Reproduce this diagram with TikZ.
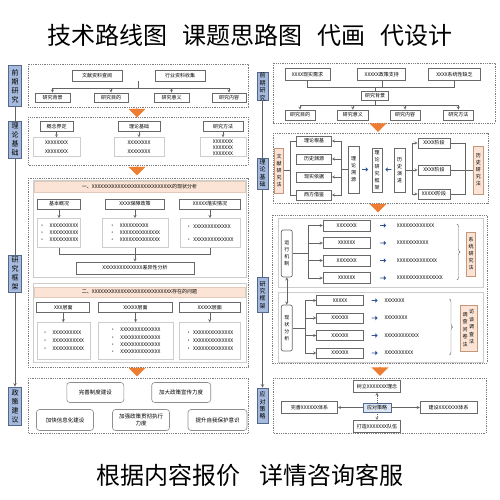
\documentclass[tikz,border=0pt]{standalone}
\usepackage{fontspec}
\setmainfont{Noto Sans CJK SC}
\usetikzlibrary{shapes.geometric, shapes.arrows, arrows, calc, decorations.pathreplacing}

\definecolor{labfill}{RGB}{166,186,222}
\definecolor{labdraw}{RGB}{84,104,140}
\definecolor{boxdraw}{RGB}{105,105,105}
\definecolor{softdraw}{RGB}{205,205,205}
\definecolor{peach}{RGB}{251,228,213}
\definecolor{peachdraw}{RGB}{196,150,122}
\definecolor{framegray}{RGB}{125,125,125}
\definecolor{arrorange}{RGB}{237,125,49}
\definecolor{arrblue}{RGB}{46,84,150}
\definecolor{linegray}{RGB}{100,100,100}
\definecolor{hubfill}{RGB}{222,230,242}

\begin{document}
\begin{tikzpicture}[x=1pt, y=-1pt,
        % styles
        sz/.style 2 args = {minimum width=#1pt, minimum height=#2pt},
        stage/.style = {
                rectangle, draw=labdraw, fill=labfill, line width=0.6pt,
                inner sep=0pt, align=center, font=\fontsize{7}{9}\selectfont
            },
        stagesmall/.style = {
                stage, font=\fontsize{6}{7.4}\selectfont
            },
        box/.style = {
                rectangle, draw=boxdraw, line width=0.7pt, fill=white,
                inner sep=0pt, align=center, font=\fontsize{5}{6}\selectfont
            },
        vbox/.style = {
                box, font=\fontsize{5}{7}\selectfont
            },
        roundbox/.style = {
                vbox, rounded corners=2pt
            },
        soft/.style = {
                rectangle, draw=softdraw, line width=0.5pt, fill=white,
                inner sep=0pt, align=left, font=\fontsize{5}{7}\selectfont
            },
        band/.style = {
                rectangle, draw=peachdraw!50, fill=peach, line width=0.5pt,
                inner sep=0pt, font=\fontsize{5}{6}\selectfont
            },
        tag/.style = {
                rectangle, draw=peachdraw, fill=peach, line width=0.6pt,
                inner sep=0pt, align=center, font=\fontsize{5}{7}\selectfont
            },
        advice/.style = {
                rectangle, rounded corners=3pt, draw=boxdraw!75, line width=0.6pt,
                inner sep=0pt, align=center, font=\fontsize{5.5}{7.5}\selectfont
            },
        hub/.style = {
                box, fill=hubfill, draw=labdraw
            },
        frame/.style = {
                draw=framegray, line width=0.5pt, dash pattern=on 1pt off 0.8pt
            },
        panel/.style = {
                draw=softdraw, line width=0.5pt
            },
        line/.style = {
                draw=linegray, line width=0.4pt
            },
        arrow/.style = {
                line, ->, >=stealth
            },
        downarrow/.style = {
                single arrow, shape border rotate=270, fill=arrorange, draw=none,
                inner sep=0pt, minimum height=9pt, minimum width=17pt,
                single arrow head extend=2.5pt
            },
        bluearrow/.style = {
                single arrow, fill=arrblue, draw=none, inner sep=0pt,
                minimum height=6pt, minimum width=4.5pt, single arrow head extend=1.2pt
            },
        note/.style = {
                anchor=west, inner sep=0pt, font=\fontsize{5}{6}\selectfont
            },
        brace/.style = {
                line, decorate, decoration={brace, amplitude=3pt}
            }]

    \useasboundingbox[fill=white] (0,0) rectangle (500,500);

    \node (title) at (250,35) {\fontsize{24}{24}\selectfont 技术路线图\hspace{15pt}课题思路图\hspace{15pt}代画\hspace{15pt}代设计};
    \node (contact) at (250,475) {\fontsize{24}{24}\selectfont 根据内容报价\hspace{20pt}详情咨询客服};

    % left: stage labels
    \node (l_pre) [stage, sz={13}{41}] at (15,86) {前\\期\\研\\究};
    \node (l_theory) [stage, sz={13}{37}] at (15,139.7) {理\\论\\基\\础};
    \node (l_frame) [stage, sz={13}{37}] at (15,274) {研\\究\\框\\架};
    \node (l_advice) [stage, sz={13}{38}] at (15,406) {政\\策\\建\\议};
    \draw [line, line width=0.6pt] (l_pre) -- (l_theory);
    \draw [line, line width=0.6pt] (l_theory) -- (l_frame);
    \draw [arrow, line width=0.6pt] (l_frame) -- (l_advice);

    % left: preliminary study
    \draw [frame] (28,64) rectangle (248,107);
    \node (lit_review) [box, sz={50}{11}] at (97,75.5) {文献资料查阅};
    \node (industry_data) [box, sz={50}{11}] at (180,75.5) {行业资料收集};
    \node (background) [box, sz={35}{9}] at (52.5,97.5) {研究背景};
    \node (aim) [box, sz={34}{9}] at (111,97.5) {研究目的};
    \node (meaning) [box, sz={35}{9}] at (171.5,97.5) {研究意义};
    \node (content) [box, sz={34}{9}] at (229,97.5) {研究内容};
    \coordinate (pre_top) at ($(lit_review.south)!0.5!(industry_data.south)$);
    \draw [line] (pre_top) -- ++(0,6.5) coordinate (pre_bar);
    \foreach \n in {background, aim, meaning, content}
        \draw [arrow] (pre_bar) -| (\n);

    \node (down_a) [downarrow] at (137,112.5) {};

    % left: theory basis
    \draw [frame] (28,117) rectangle (248,165);
    \node (concept) [box, sz={33}{10}] at (56.5,126.7) {概念界定};
    \node (theory) [box, sz={42}{10}] at (139,126.7) {理论基础};
    \node (method) [box, sz={40}{10}] at (223,126.7) {研究方法};
    \node (concept_list) [soft, sz={47}{19}, font=\fontsize{5}{8.4}\selectfont] at (56.5,147.2) {XXXXXXXX\\XXXXXXXX};
    \node (theory_list) [soft, sz={50}{19}, font=\fontsize{5}{8.4}\selectfont] at (139,147.2) {XXXXXXXX\\XXXXXXXX};
    \node (method_list) [soft, sz={46}{19}, font=\fontsize{5}{6}\selectfont] at (223,147.2) {XXXXXXX\\XXXXXXX\\XXXXXXX};
    \draw [arrow] (concept) -- (concept_list);
    \draw [arrow] (theory) -- (theory_list);
    \draw [arrow] (method) -- (method_list);

    \node (down_b) [downarrow] at (137,170.5) {};

    % left: research framework
    \draw [frame] (28,178) rectangle (248,367);
    \draw [panel] (33,180) rectangle (246,277);
    \node (status_head) [band, sz={211}{10.5}] at (139.5,186.5) {一、XXXXXXXXXXXXXXXXXXXXXXXXXXXX的现状分析};
    \node (overview) [box, sz={43}{10}] at (59,204) {基本概况};
    \node (guarantee) [box, sz={59}{10}] at (135,204) {XXXX保障政策};
    \node (practice) [box, sz={61}{10}] at (210,204) {XXXXX落实情况};
    \node (overview_list) [soft, sz={43}{29}] at (59,232.8) {•\hspace{5pt}XXXXXXXXXX\\•\hspace{5pt}XXXXXXXXXX\\•\hspace{5pt}XXXXXXXXXX};
    \node (guarantee_list) [soft, sz={66}{29}] at (135,232.8) {•\hspace{5pt}XXXXXXXXXX\\•\hspace{5pt}XXXXXXXXXXXXXX\\•\hspace{5pt}XXXXXXXXXXXXXX};
    \node (practice_list) [soft, sz={60}{29}, font=\fontsize{5}{13}\selectfont] at (210,232.8) {•\hspace{2pt}XXXXXXXXXXXXX\\•\hspace{2pt}XXXXXXXXXXXXXX};
    \draw [arrow] (overview) -- (overview_list);
    \draw [arrow] (guarantee) -- (guarantee_list);
    \draw [arrow] (practice) -- (practice_list);
    \node (gap) [box, sz={118}{12}] at (135,268) {XXXXXXXXXXXXXX差异性分析};
    \draw [line] (overview_list.south) -- ++(0,7) -| (practice_list.south);
    \draw [arrow] (guarantee_list) -- (gap);

    \draw [panel] (33,283) rectangle (246,362);
    \node (problem_head) [band, sz={211}{10.5}] at (139.5,292) {二、XXXXXXXXXXXXXXXXXXXXXXXXXXXX存在的问题};
    \node (level_a) [box, sz={53}{10.5}] at (63.3,307.5) {XXX层面};
    \node (level_b) [box, sz={74}{10.5}] at (135.5,307.5) {XXXXX层面};
    \node (level_c) [box, sz={61}{10.5}] at (209.7,307.5) {XXXXX层面};
    \node (level_a_list) [soft, sz={53}{37}, font=\fontsize{5}{8}\selectfont] at (63.3,341) {•\hspace{5pt}XXXXXXXXXX\\•\hspace{5pt}XXXXXXXXXXX\\•\hspace{5pt}XXXXXXXXXXX};
    \node (level_b_list) [soft, sz={75}{37}, font=\fontsize{5}{7.4}\selectfont] at (135.5,341) {•\hspace{5pt}XXXXXXXXXXXXXX\\•\hspace{5pt}XXXXXXXXXXXXXX\\•\hspace{5pt}XXXXXXXXXXXXXX\\•\hspace{5pt}XXXXXXXXXXXXXX};
    \node (level_c_list) [soft, sz={61}{37}, font=\fontsize{5}{8}\selectfont] at (209.7,341) {•\hspace{2pt}XXXXXXXXXXXXXX\\•\hspace{2pt}XXXXXXXXXXXXXX\\•\hspace{2pt}XXXXXXXXXXXXXX};
    \draw [arrow] (level_a) -- (level_a_list);
    \draw [arrow] (level_b) -- (level_b_list);
    \draw [arrow] (level_c) -- (level_c_list);

    \node (down_c) [downarrow] at (137,371.5) {};

    % left: policy advice
    \draw [frame] (28,378) rectangle (248,433);
    \node (system) [advice, sz={57}{20}] at (95.3,392.5) {完善制度建设};
    \node (publicity) [advice, sz={59}{20}] at (181.2,392.5) {加大政策宣传力度};
    \node (informat) [advice, sz={57}{21}] at (65,420) {加快信息化建设};
    \node (enforce) [advice, sz={57}{21}] at (141,420) {加强政策贯彻执行\\力度};
    \node (awareness) [advice, sz={59}{21}] at (217.5,420) {提升自我保护意识};

    % right: stage labels
    \node (r_pre) [stagesmall, sz={11}{28}] at (262.5,86.7) {前\\期\\研\\究};
    \node (r_theory) [stagesmall, sz={11}{31}] at (262.5,173.5) {理\\论\\基\\础};
    \node (r_frame) [stagesmall, sz={11}{35}] at (262.5,295) {研\\究\\框\\架};
    \node (r_plan) [stagesmall, sz={11}{35}] at (262.5,405.5) {应\\对\\策\\略};
    \draw [line, line width=0.6pt] (r_pre) -- (r_theory);
    \draw [line, line width=0.6pt] (r_theory) -- (r_frame);
    \draw [arrow, line width=0.6pt] (r_frame) -- (r_plan);

    % right: preliminary study
    \draw [frame] (273,63) rectangle (495,123);
    \node (need) [box, sz={45}{12.5}] at (307.5,74.5) {XXXX现实需求};
    \node (support) [box, sz={48}{12.5}] at (381.8,74.5) {XXXXX政策支持};
    \node (lack) [box, sz={52}{12.5}] at (454.5,74.5) {XXXX系统性缺乏};
    \node (r_background) [box, sz={27}{9}] at (375,95.5) {研究背景};
    \coordinate (bg_join) at (375,87.7);
    \draw [line] (need.south) |- (bg_join) -| (lack.south);
    \draw [line] (support.south) -- (support.south |- bg_join);
    \draw [line] (bg_join) -- (r_background);
    \node (r_aim) [box, sz={30}{10}] at (300,115) {研究目的};
    \node (r_meaning) [box, sz={31}{10}] at (352.8,115) {研究意义};
    \node (r_content) [box, sz={30}{10}] at (405,115) {研究内容};
    \node (r_method) [box, sz={30}{10}] at (458.3,115) {研究方法};
    \draw [line] (r_background) -- ++(0,9.5) coordinate (bg_bar);
    \foreach \n in {r_aim, r_meaning, r_content, r_method}
        \draw [arrow] (bg_bar) -| (\n);

    \node (down_d) [downarrow] at (378,127) {};

    % right: theory basis
    \draw [frame] (273,133) rectangle (488,203);
    \node (lit_method) [tag, sz={9}{45}] at (279,170.5) {文\\献\\研\\究\\法};
    \node (root) [box, sz={35}{10}] at (314,141) {理论根基};
    \node (origin) [box, sz={35}{10}] at (314,159) {历史渊源};
    \node (basis) [box, sz={35}{10}] at (314,177) {现实依据};
    \node (western) [box, sz={35}{10}] at (314,195) {西方借鉴};
    \draw [line] (root.west) -- ++(-5.5,0) |- (western.west);
    \draw [line] (lit_method.east) -- ++(7.5,0);
    \node (trace) [vbox, sz={11}{47}] at (353.5,169.5) {理\\论\\溯\\源};
    \draw [line] (trace.west) -- ++(-6,0) coordinate (trace_fork);
    \foreach \n in {root, origin, basis, western}
        \draw [arrow] (trace_fork) |- (\n.east);
    \node (to_core) [bluearrow] at (365,169.5) {};
    \node (core) [vbox, sz={10}{44}, font=\fontsize{5}{7}\selectfont] at (377,170) {理\\论\\研\\究\\框\\架};
    \node (from_evo) [bluearrow, shape border rotate=180] at (388.5,169.5) {};
    \node (evolution) [vbox, sz={11}{44}] at (399.7,170) {历\\史\\演\\进};
    \draw [line] (evolution.east) -- ++(6.5,0) coordinate (evo_fork);
    \node (phase_a) [box, sz={32}{10}] at (434,143) {XXXX阶段};
    \node (phase_b) [box, sz={32}{10}] at (434,170) {XXXX阶段};
    \node (phase_c) [box, sz={32}{10}] at (434,194) {XXXXX阶段};
    \node (hist_method) [tag, sz={10}{48}] at (478.3,170) {历\\史\\研\\究\\法};
    \draw [line] (hist_method.west) -- ++(-8,0) coordinate (hist_fork);
    \foreach \n in {phase_a, phase_b, phase_c} {
        \draw [arrow] (evo_fork) |- (\n.west);
        \draw [line] (hist_fork) |- (\n.east);
    }

    \node (down_e) [downarrow] at (378,207.5) {};

    % right: research framework
    \draw [frame] (272,215) rectangle (487,363);
    \draw [panel] (278,218) rectangle (483,287);
    \draw [panel] (278,292) rectangle (483,362);
    \node (mechanism) [roundbox, sz={11}{47}] at (286.8,253.5) {运\\行\\机\\制};
    \draw [line] (mechanism.east) -- ++(16,0) coordinate (mech_fork);
    \node (mech_a) [box, sz={47}{11}] at (346.7,225.5) {XXXXXXX};
    \node (mech_b) [box, sz={47}{11}] at (346.7,243) {XXXXXX};
    \node (mech_c) [box, sz={47}{11}] at (346.7,260.5) {XXXXXXX};
    \node (mech_d) [box, sz={47}{11}] at (346.7,278) {XXXXXX};
    \foreach \n in {mech_a, mech_b, mech_c, mech_d}
        \draw [arrow] (mech_fork) |- (\n.west);
    \node (mech_a_to) [bluearrow] at (383,225.5) {};
    \node (mech_b_to) [bluearrow] at (383,243) {};
    \node (mech_c_to) [bluearrow] at (383,260.5) {};
    \node (mech_d_to) [bluearrow] at (383,278) {};
    \node (mech_a_note) [note] at (396.7,225.5) {XXXXXXXXXXXXX};
    \node (mech_b_note) [note] at (396.7,243) {XXXXXXXXXXX};
    \node (mech_c_note) [note] at (396.7,260.5) {XXXXXXXXXXXXXX};
    \node (mech_d_note) [note] at (396.7,278) {XXXXXXXXXXXXXXXX};
    \draw [brace] (457,224) -- (457,280);
    \node (sys_method) [tag, sz={9}{44}] at (471.2,254) {系\\统\\研\\究\\法};

    \node (status) [roundbox, sz={11}{46}] at (286.8,328) {现\\状\\分\\析};
    \draw [line, <->, >=stealth] (mechanism) -- (status);
    \draw [line] (status.east) -- ++(13,0) coordinate (status_fork);
    \node (stat_a) [box, sz={46.6}{10}] at (340,300.5) {XXXXX};
    \node (stat_b) [box, sz={46.6}{10}] at (340,318) {XXXXXX};
    \node (stat_c) [box, sz={46.6}{10}] at (340,335.5) {XXXXXX};
    \node (stat_d) [box, sz={46.6}{10}] at (340,353) {XXXXXX};
    \foreach \n in {stat_a, stat_b, stat_c, stat_d}
        \draw [arrow] (status_fork) |- (\n.west);
    \node (stat_a_to) [bluearrow] at (374.5,300.5) {};
    \node (stat_b_to) [bluearrow] at (374.5,318) {};
    \node (stat_c_to) [bluearrow] at (374.5,335.5) {};
    \node (stat_d_to) [bluearrow] at (374.5,353) {};
    \node (stat_a_note) [note] at (384.3,300.5) {XXXXXXX};
    \node (stat_b_note) [note] at (384.3,318) {XXXXXXXX};
    \node (stat_c_note) [note] at (384.3,335.5) {XXXXXXXXXXXX};
    \node (stat_d_note) [note] at (384.3,353) {XXXXXXXXXX};
    \draw [brace] (449.5,299) -- (449.5,355);
    \node (survey_method) [tag, sz={17}{46}] at (468.3,328)
        {\shortstack{调\\查\\问\\卷\\法}\hspace{1.5pt}\raisebox{2.5pt}{\shortstack{访\\谈\\调\\查\\法}}};

    \node (down_f) [downarrow] at (380,371) {};

    % right: strategies
    \draw [frame] (273,378) rectangle (486,433);
    \node (strategy) [hub, sz={28}{9}] at (377,407.5) {应对策略};
    \node (idea) [box, sz={47}{12}] at (377,386.2) {树立XXXXXXX理念};
    \node (system_a) [box, sz={56}{11.5}] at (309.5,407.5) {完善XXXXXX体系};
    \node (system_b) [box, sz={57}{11.5}] at (448.7,407.5) {建设XXXXXXX体系};
    \node (team) [box, sz={47}{12}] at (377,426.3) {打造XXXXXXX队伍};
    \draw [arrow, dash pattern=on 1pt off 1pt] (strategy) -- (idea);
    \draw [arrow, dash pattern=on 1pt off 1pt] (strategy) -- (team);
    \draw [arrow] (strategy) -- (system_a);
    \draw [arrow] (strategy) -- (system_b);
\end{tikzpicture}
\end{document}
